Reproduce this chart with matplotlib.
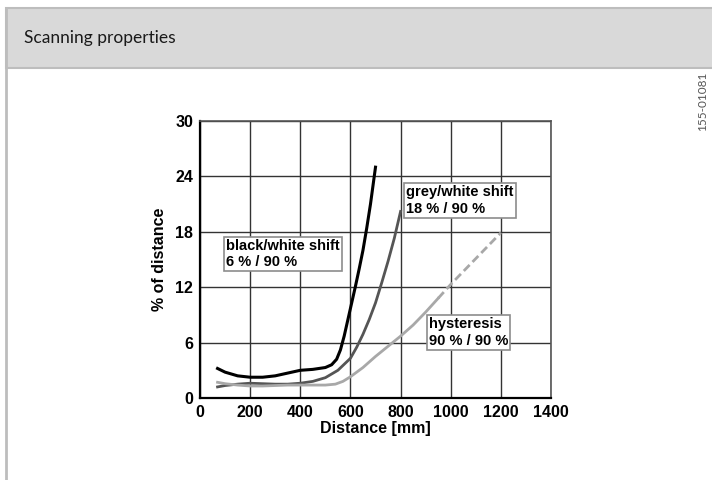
import matplotlib.pyplot as plt
from matplotlib.patches import Rectangle
from matplotlib.lines import Line2D

# black/white shift 6 % / 90 %
bw_x = [70, 100, 150, 200, 250, 300, 350, 400, 450, 500, 525, 545, 560, 575, 590, 605, 620, 635, 650, 665, 680, 690, 700]
bw_y = [3.2, 2.8, 2.4, 2.25, 2.25, 2.4, 2.7, 3.0, 3.1, 3.3, 3.6, 4.2, 5.2, 6.7, 8.5, 10.3, 12.1, 14.0, 16.0, 18.4, 21.0, 23.0, 25.0]

# grey/white shift 18 % / 90 %
gw_x = [70, 100, 150, 200, 250, 300, 350, 400, 450, 500, 550, 600, 625, 650, 675, 700, 725, 750, 775, 800]
gw_y = [1.2, 1.35, 1.5, 1.6, 1.55, 1.5, 1.5, 1.6, 1.8, 2.2, 3.0, 4.3, 5.5, 6.9, 8.5, 10.3, 12.5, 14.8, 17.3, 20.2]

# hysteresis 90 % / 90 % (solid part, then dashed extrapolation)
hy_x = [70, 100, 150, 200, 250, 300, 350, 400, 450, 500, 540, 570, 600, 650, 700, 750, 800, 850, 900, 950]
hy_y = [1.7, 1.55, 1.4, 1.3, 1.3, 1.35, 1.4, 1.4, 1.4, 1.4, 1.5, 1.8, 2.3, 3.3, 4.5, 5.6, 6.7, 7.9, 9.3, 10.8]
hy_dash_x = [950, 1000, 1100, 1200]
hy_dash_y = [10.8, 12.3, 15.1, 17.9]

x_ticks = [0, 200, 400, 600, 800, 1000, 1200, 1400]
y_ticks = [0, 6, 12, 18, 24, 30]

fig = plt.figure(figsize=(7.12, 4.8), dpi=100)

# header band and frame
fig.patches.append(Rectangle((5.5/712, 412/480), 1.0, 60/480, transform=fig.transFigure,
                             fc='#d9d9d9', ec='#bdbdbd', lw=1.5))
fig.lines.append(Line2D([5.5/712, 5.5/712], [0, 472/480], transform=fig.transFigure,
                        color='#bdbdbd', lw=2))
fig.text(24/712, (480-38)/480, 'Scanning properties', fontsize=12.5, family='Lato',
         color='#1a1a1a', va='center', ha='left')
fig.text(703/712, (480-101)/480, '155-01081', fontsize=8.5, family='Lato', color='#555555',
         rotation=90, va='center', ha='center')

ax = fig.add_axes([200/712, 82/480, 351/712, 277/480])
ax.plot(bw_x, bw_y, color='black', lw=2.2, zorder=3)
ax.plot(gw_x, gw_y, color='#555555', lw=2.0, zorder=3)
ax.plot(hy_x, hy_y, color='#a8a8a8', lw=2.0, zorder=3)
ax.plot(hy_dash_x, hy_dash_y, color='#a8a8a8', lw=2.0, ls=(0, (3, 1.5)), zorder=3)

ax.set_xlim(0, 1400)
ax.set_ylim(0, 30)
ax.set_xticks(x_ticks)
ax.set_yticks(y_ticks)
ax.grid(True, color='#333333', lw=1)
ax.set_axisbelow(True)
ax.tick_params(length=0, pad=5, labelsize=11.5)
for lab in ax.get_xticklabels() + ax.get_yticklabels():
    lab.set_fontweight('bold')
    lab.set_family('Liberation Sans')
ax.set_xlabel('Distance [mm]', fontsize=11.5, fontweight='bold', family='Liberation Sans', labelpad=1)
ax.set_ylabel('% of distance', fontsize=11.5, fontweight='bold', family='Liberation Sans', labelpad=6)
ax.spines['left'].set_linewidth(1.6)
ax.spines['bottom'].set_linewidth(1.6)
ax.spines['top'].set_color('#555555')
ax.spines['right'].set_color('#555555')
ax.spines['top'].set_linewidth(1.2)
ax.spines['right'].set_linewidth(1.2)

box = dict(boxstyle='square,pad=0.15', fc='white', ec='#8c8c8c', lw=1.2)
txt = dict(fontsize=10.5, fontweight='bold', family='Liberation Sans', ha='center', va='center',
           multialignment='left', bbox=box, zorder=4)
ax.text(331, 15.6, 'black/white shift\n6 % / 90 %', **txt)
ax.text(1037, 21.4, 'grey/white shift\n18 % / 90 %', **txt)
ax.text(1071, 7.1, 'hysteresis\n90 % / 90 %', **txt)

fig.savefig('out.png', dpi=100)
